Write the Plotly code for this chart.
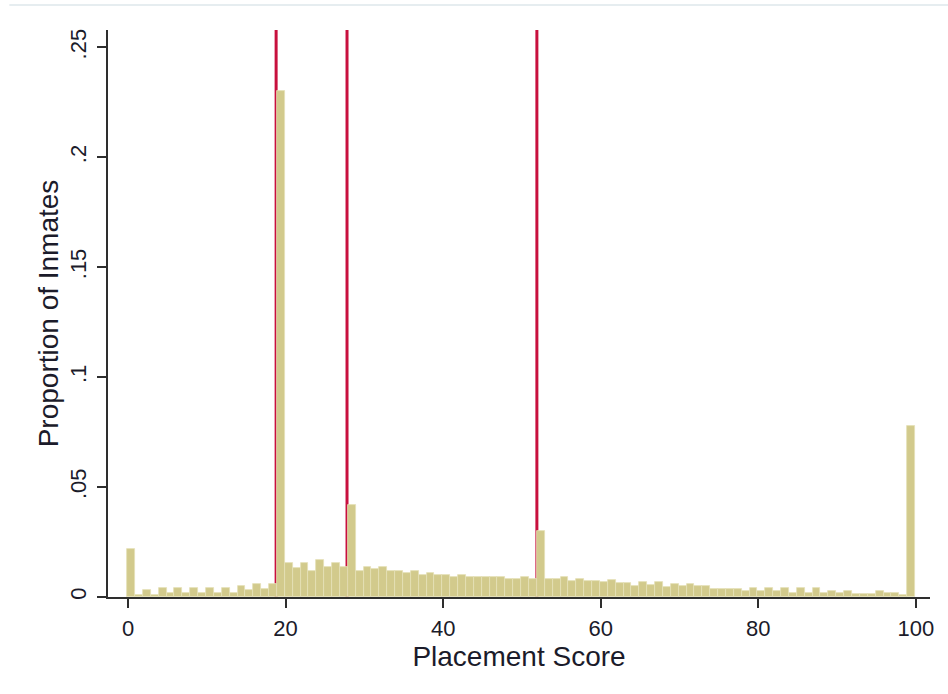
import plotly.graph_objects as go

# Histogram: proportion of inmates by placement score (bins of width 1, scores 0..99)
scores = list(range(100))
proportions = [
    0.022, 0.001, 0.003, 0.001, 0.004, 0.002, 0.004, 0.002, 0.004, 0.002,
    0.004, 0.002, 0.004, 0.002, 0.005, 0.003, 0.006, 0.0036, 0.006, 0.230,
    0.0155, 0.013, 0.0155, 0.012, 0.0167, 0.0136, 0.0155, 0.0136, 0.042, 0.012,
    0.0136, 0.0127, 0.0136, 0.0118, 0.0118, 0.0109, 0.0118, 0.010, 0.0109, 0.010,
    0.010, 0.0091, 0.010, 0.0091, 0.0091, 0.0091, 0.0091, 0.0091, 0.0082, 0.0082,
    0.0091, 0.0082, 0.030, 0.0082, 0.0082, 0.0091, 0.0073, 0.0082, 0.0073, 0.0075,
    0.0067, 0.0079, 0.0064, 0.0064, 0.0052, 0.0067, 0.0055, 0.0067, 0.0045, 0.0058,
    0.0048, 0.0058, 0.0048, 0.0048, 0.0036, 0.0036, 0.0036, 0.0036, 0.0027, 0.0039,
    0.0027, 0.0039, 0.0027, 0.0039, 0.0018, 0.0039, 0.0018, 0.0039, 0.0018, 0.0028,
    0.0018, 0.0028, 0.0015, 0.0015, 0.0015, 0.0028, 0.0018, 0.0018, 0.0011, 0.078,
]
bin_offset = 0.4  # bin centre relative to score
cutoffs = [18.8, 27.8, 51.9]

x_ticks = [0, 20, 40, 60, 80, 100]
y_ticks = [0, 0.05, 0.10, 0.15, 0.20, 0.25]
y_tick_labels = ["0", ".05", ".1", ".15", ".2", ".25"]

FONT = "Liberation Sans, Arial, sans-serif"
TXT = "#1b1b2a"
AX = "#2e2e2e"

fig = go.Figure()
fig.add_trace(go.Bar(
    x=[s + bin_offset for s in scores],
    y=proportions,
    width=1.0,
    marker=dict(color="#D2CA8C", line=dict(color="#E4DFB6", width=0.8)),
    showlegend=False,
    hoverinfo="x+y",
))

for c in cutoffs:
    fig.add_shape(type="line", xref="x", yref="y domain", x0=c, x1=c, y0=0, y1=1,
                  line=dict(color="#C8103E", width=3), layer="below")

# thin light border at top of graph region
fig.add_shape(type="line", xref="paper", yref="paper", x0=-0.12, x1=1.03,
              y0=1.044, y1=1.044, line=dict(color="#E6EDF0", width=2), layer="above")

fig.update_layout(
    width=948, height=694, autosize=False,
    margin=dict(l=108, r=18, t=30, b=97),
    paper_bgcolor="white", plot_bgcolor="white",
    bargap=0,
    font=dict(family=FONT, color=TXT, size=22),
    xaxis=dict(
        range=[-2.54, 101.8], tickvals=x_ticks,
        ticks="outside", ticklen=9, tickwidth=1.5, tickcolor=AX,
        showline=True, linecolor=AX, linewidth=1.5,
        showgrid=False, zeroline=False,
        tickfont=dict(size=22, family=FONT, color=TXT),
        ticklabelstandoff=2,
        title=dict(text="Placement Score", font=dict(size=28, family=FONT, color=TXT), standoff=0),
    ),
    yaxis=dict(
        range=[0, 0.2579], tickvals=y_ticks, ticktext=y_tick_labels, tickangle=-90,
        ticks="outside", ticklen=9, tickwidth=1.5, tickcolor=AX,
        showline=True, linecolor=AX, linewidth=1.5,
        showgrid=False, zeroline=False,
        tickfont=dict(size=22, family=FONT, color=TXT),
        ticklabelstandoff=2,
        title=dict(text="Proportion of Inmates", font=dict(size=28, family=FONT, color=TXT), standoff=0),
    ),
)

fig.write_html("out.html")
